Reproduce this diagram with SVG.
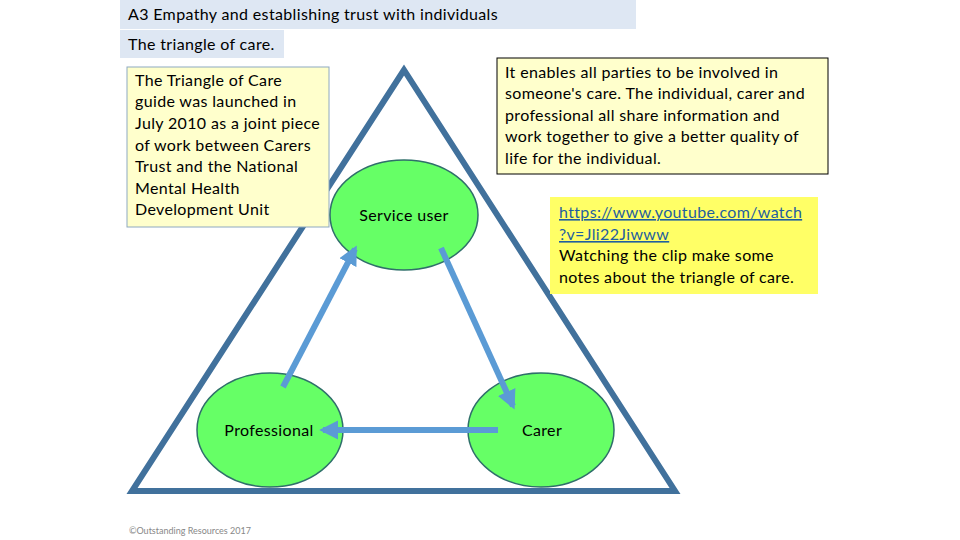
<svg xmlns="http://www.w3.org/2000/svg" width="960" height="540" viewBox="0 0 960 540">
<defs>
<style>
.t{font-family:Lato,"Open Sans","Liberation Sans",sans-serif;font-size:16px;letter-spacing:0.35px;fill:#000}
.node{fill:#66FF66;stroke:#2F6F6A;stroke-width:1.5}
.conn{stroke:#5B9BD5;stroke-width:6;fill:none}
.note{fill:#FFFFCC}
</style>
<marker id="ah" viewBox="0 0 10 10" refX="8" refY="5" markerWidth="3.2" markerHeight="3.2" orient="auto" markerUnits="strokeWidth">
<path d="M0,0 L10,5 L0,10 z" fill="#5B9BD5"/>
</marker>
</defs>
<rect width="960" height="540" fill="#fff"/>
<g id="title">
<rect x="120" y="0" width="516" height="29" fill="#DEE7F3"/>
<text class="t" x="128" y="20">A3 Empathy and establishing trust with individuals</text>
</g>
<g id="subtitle">
<rect x="120" y="30" width="164" height="28" fill="#DEE7F3"/>
<text class="t" x="128" y="50">The triangle of care.</text>
</g>
<g id="triangle">
<polygon points="404,70 132,491 675,491" fill="none" stroke="#41719C" stroke-width="6" stroke-linejoin="miter"/>
</g>
<g id="note-left">
<rect x="127" y="67" width="202" height="160" class="note" stroke="#8EA9C1" stroke-width="1"/>
<text class="t" x="135" y="86">The Triangle of Care</text>
<text class="t" x="135" y="107">guide was launched in</text>
<text class="t" x="135" y="129">July 2010 as a joint piece</text>
<text class="t" x="135" y="151">of work between Carers</text>
<text class="t" x="135" y="172">Trust and the National</text>
<text class="t" x="135" y="194">Mental Health</text>
<text class="t" x="135" y="215">Development Unit</text>
</g>
<g id="note-right">
<rect x="497" y="58" width="331" height="116" class="note" stroke="#000" stroke-width="1"/>
<text class="t" x="505" y="78">It enables all parties to be involved in</text>
<text class="t" x="505" y="99">someone's care.  The individual, carer and</text>
<text class="t" x="505" y="121">professional all share information and</text>
<text class="t" x="505" y="142">work together to give a better quality of</text>
<text class="t" x="505" y="164">life for the individual.</text>
</g>
<g id="note-link">
<rect x="550" y="197" width="268" height="97" fill="#FFFF66"/>
<text class="t" x="559" y="218" style="fill:#1F5F9F;text-decoration:underline">https://www.youtube.com/watch</text>
<text class="t" x="559" y="240" style="fill:#1F5F9F;text-decoration:underline">?v=Jli22Jiwww</text>
<text class="t" x="559" y="261">Watching the clip make some</text>
<text class="t" x="559" y="283">notes about the triangle of care.</text>
</g>
<g id="service-user">
<ellipse class="node" cx="404" cy="215" rx="74" ry="55"/>
<text class="t" x="404" y="221" text-anchor="middle">Service user</text>
</g>
<g id="professional">
<ellipse class="node" cx="270" cy="430" rx="73" ry="57"/>
<text class="t" x="269" y="436" text-anchor="middle">Professional</text>
</g>
<g id="carer">
<ellipse class="node" cx="541" cy="430" rx="73" ry="57"/>
<text class="t" x="542" y="436" text-anchor="middle">Carer</text>
</g>
<g id="connectors">
<line class="conn" x1="283" y1="387" x2="355" y2="249" marker-end="url(#ah)"/>
<line class="conn" x1="441" y1="248" x2="513" y2="406" marker-end="url(#ah)"/>
<line class="conn" x1="498" y1="430" x2="323" y2="430" marker-end="url(#ah)"/>
</g>
<g id="footer">
<text x="129" y="534" style="font-family:Lato,'Liberation Sans',sans-serif;font-size:9px;fill:#888">©Outstanding Resources 2017</text>
</g>
</svg>
